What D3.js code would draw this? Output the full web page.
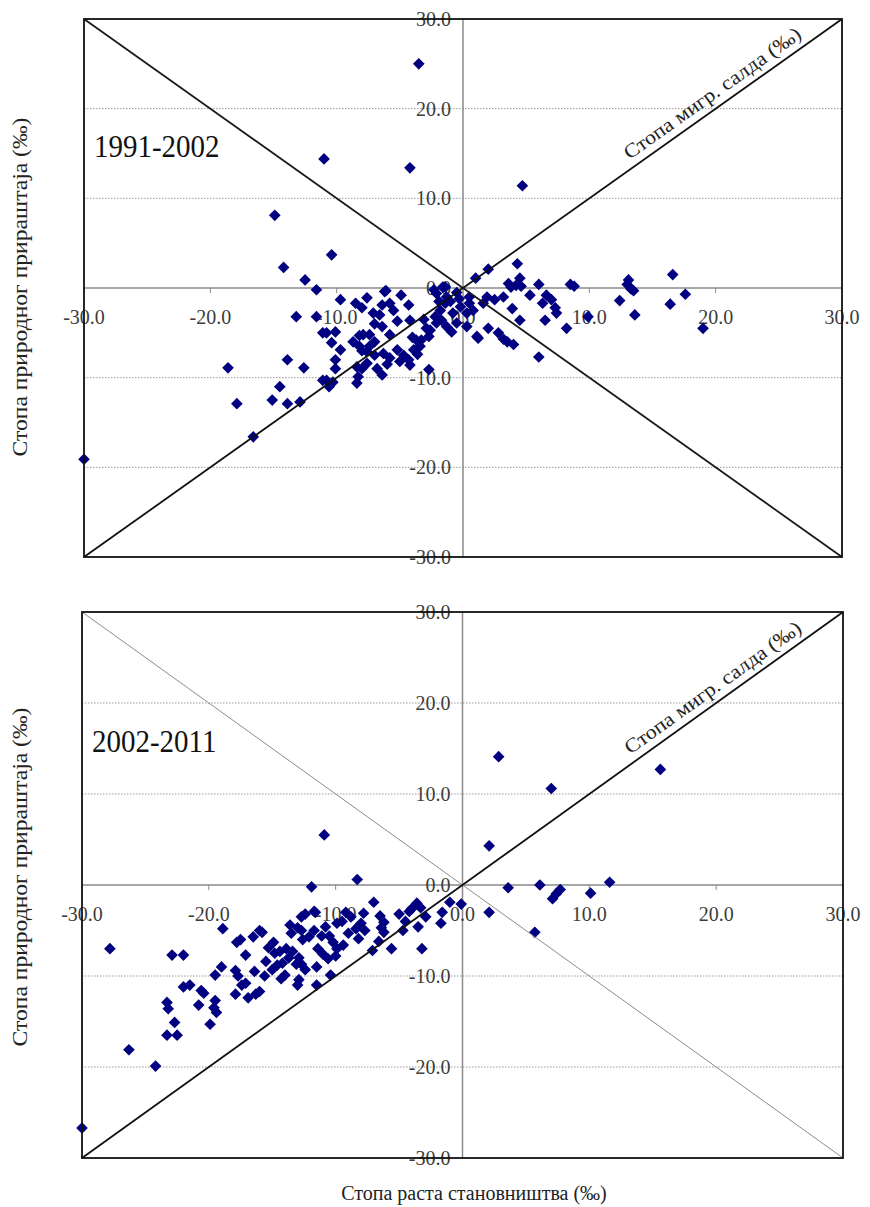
<!DOCTYPE html>
<html>
<head>
<meta charset="utf-8">
<script src="https://cdn.jsdelivr.net/npm/d3@7"></script>
<style>
  html, body { margin: 0; padding: 0; background: #ffffff; }
  #chart { width: 870px; height: 1207px; }
</style>
</head>
<body>
<div id="chart"></div>
<script>
// Axis ticks (both axes share the same scale -30..30)
const tickValues = [-30, -20, -10, 0, 10, 20, 30];
const tickLabels = ['-30.0', '-20.0', '-10.0', '0.0', '10.0', '20.0', '30.0'];
const gridValues = [-20, -10, 10, 20];

// 1991-2002: population growth rate (x) vs natural increase rate (y), per mille
const growth1991 = [
    -30.0, -18.6, -17.9, -16.6, -15.1, -14.5, -13.9, -12.9, -13.9, -12.6,
    -14.9, -14.2, -12.5, -11.6, -10.4, -11.0, -4.2, -3.5, 4.7, -13.2,
    -11.6, -9.7, -11.1, -10.6, -10.3, -10.1, -11.1, -10.1, -10.4, -9.7,
    -8.4, -8.0, -6.4, -8.2, -8.0, -7.6, -7.0, -8.5, -8.0, -7.6,
    -7.1, -6.2, -5.8, -4.9, -6.1, -6.4, -6.4, -5.8, -7.0, -5.2,
    -4.2, -4.3, -4.2, -2.7, -6.3, -5.8, -5.2, -4.7, -4.3, -3.9,
    -3.4, -3.3, -2.7, -2.6, -2.1, -2.2, -1.8, -1.4, -1.3, -2.1,
    -1.7, -1.3, -0.9, -0.5, -0.8, -0.2, 0.3, 1.1, 1.0, -3.1,
    -2.9, -4.0, -3.7, -10.1, -10.8, -8.4, -8.3, -7.6, -7.0, -7.4,
    -7.9, -7.4, -8.7, -8.2, -10.8, -2.3, -1.6, -1.4, 0.5, 0.5,
    0.8, 0.3, 2.0, 4.3, 1.9, 2.5, 3.2, 1.6, 3.6, 3.8,
    4.5, 4.6, 4.2, 6.0, 5.3, 3.9, 2.0, 2.8, 3.2, 3.5,
    4.0, 1.2, 4.5, 6.0, 6.6, 7.0, 6.3, 7.3, 7.4, 6.5,
    8.2, 8.5, 8.8, 9.9, 13.1, 13.0, 13.3, 13.5, 12.4, 13.6,
    16.6, 16.4, 17.6, 19.0, -6.6, -5.5, -0.5, -1.0, -0.3, -1.9,
    -5.0, -6.0, -3.6, -6.8
];
const natural1991 = [
    -19.1, -8.9, -12.9, -16.6, -12.5, -11.0, -12.9, -12.7, -8.0, -8.9,
    8.1, 2.3, 0.9, -0.2, 3.7, 14.4, 13.4, 25.0, 11.4, -3.2,
    -3.2, -1.3, -10.3, -11.0, -10.5, -9.0, -5.0, -4.9, -6.1, -6.9,
    -10.6, -9.0, -9.7, -5.3, -7.0, -7.1, -7.5, -1.7, -2.2, -1.1,
    -2.8, -0.4, -1.7, -0.8, -0.3, -1.9, -4.3, -5.2, -4.0, -3.7,
    -3.6, -1.9, -8.6, -9.1, -7.3, -7.8, -6.9, -7.5, -8.0, -6.9,
    -6.5, -5.8, -5.4, -4.7, -3.9, -3.2, -2.5, -1.7, -1.0, -0.6,
    -3.6, -4.3, -4.9, -3.9, -2.8, -2.1, -2.8, -5.4, 1.1, -3.5,
    -4.5, -5.5, -5.8, -8.0, -10.3, -8.8, -9.9, -8.4, -6.0, -6.5,
    -5.2, -5.2, -6.0, -6.5, -5.0, -0.2, 0.1, 0.1, -1.0, -1.7,
    -2.5, -4.3, 2.1, 2.7, -1.0, -1.3, -1.0, -1.7, 0.5, 0.1,
    1.1, 0.2, 0.3, 0.4, -0.8, -2.3, -4.5, -5.0, -5.7, -6.0,
    -6.3, -5.6, -3.6, -7.7, -0.8, -1.3, -1.7, -2.2, -2.8, -3.6,
    -4.5, 0.4, 0.2, -3.2, 0.9, 0.4, -0.1, -0.3, -1.4, -3.0,
    1.5, -1.8, -0.7, -4.5, -3.0, -2.5, -0.5, -1.5, -1.2, -1.5,
    -8.2, -8.5, -7.4, -9.0
];

// 2002-2011
const growth2002 = [
    2.85, 15.6, 7.0, 2.1, 3.6, 6.1, 7.1, 7.4, 7.7, 10.1,
    11.6, 2.1, 5.7, -0.1, -1.0, -1.6, -1.7, -8.3, -11.9, -7.0,
    -3.6, -3.3, -4.0, -4.2, -2.9, -3.5, -4.7, -3.2, -5.6, -7.1,
    -7.8, -6.5, -6.2, -6.4, -6.2, -6.6, -8.0, -8.4, -7.7, -8.2,
    -9.2, -9.5, -8.8, -11.6, -12.4, -12.7, -10.8, -11.1, -10.5, -10.2,
    -9.9, -11.4, -9.4, -10.0, -10.6, -11.0, -11.7, -13.0, -13.5, -12.7,
    -16.0, -16.5, -13.9, -14.4, -13.4, -13.7, -12.9, -14.2, -13.1, -14.6,
    -12.7, -12.4, -14.0, -12.9, -10.4, -11.5, -17.1, -17.5, -17.7, -17.1,
    -16.0, -27.8, -22.9, -22.0, -18.9, -17.8, -15.8, -13.6, -11.7, -12.6,
    -12.1, -15.3, -14.8, -15.5, -15.0, -14.3, -15.6, -19.0, -19.5, -17.9,
    -17.4, -17.9, -16.9, -16.3, -22.0, -21.5, -20.6, -20.4, -20.8, -19.5,
    -19.6, -19.4, -19.9, -23.3, -23.2, -22.7, -23.3, -22.5, -26.3, -24.2,
    -30.0, -10.9, -5.0, -4.5, -9.0, -9.9, -14.9, -16.4, -13.0, -11.5
];
const natural2002 = [
    14.1, 12.7, 10.6, 4.3, -0.3, 0.0, -1.5, -0.95, -0.5, -0.9,
    0.3, -3.0, -5.2, -2.1, -1.9, -3.0, -4.2, 0.6, -0.2, -1.9,
    -2.0, -2.5, -2.6, -2.9, -3.5, -4.6, -5.0, -7.0, -7.0, -7.2,
    -3.1, -3.4, -4.1, -4.7, -5.2, -6.2, -4.2, -4.8, -5.0, -5.9,
    -3.0, -4.0, -3.5, -3.0, -3.2, -3.5, -4.6, -5.6, -5.6, -6.3,
    -7.0, -7.0, -6.6, -7.8, -8.1, -7.6, -5.0, -4.7, -5.3, -5.0,
    -5.0, -5.7, -7.0, -7.3, -7.3, -8.0, -8.0, -8.6, -8.7, -8.8,
    -8.7, -9.3, -9.9, -10.4, -9.9, -11.0, -7.7, -6.0, -10.0, -10.8,
    -11.7, -7.0, -7.7, -7.7, -4.8, -6.3, -5.2, -4.4, -2.9, -6.0,
    -5.7, -6.9, -7.5, -8.4, -9.3, -10.3, -10.0, -9.0, -9.9, -9.4,
    -11.0, -12.0, -12.4, -12.0, -11.2, -11.0, -11.6, -11.9, -13.2, -12.7,
    -13.5, -14.0, -15.3, -12.9, -13.6, -15.1, -16.5, -16.5, -18.1, -19.9,
    -26.7, 5.5, -3.2, -4.0, -5.3, -4.2, -6.3, -9.5, -11.0, -9.0
];

const panels = [
    { period: '1991-2002', xs: growth1991, ys: natural1991, box: { left: 84, right: 842, top: 19, bottom: 557 }, titleY: 287, antiColor: '#1a1a1a', antiWidth: 1.8 },
    { period: '2002-2011', xs: growth2002, ys: natural2002, box: { left: 82, right: 843, top: 612, bottom: 1158 }, titleY: 877, antiColor: '#8c8c8c', antiWidth: 1 }
];

const yTitle = 'Стопа природног прираштаја (‰)';
const xTitle = 'Стопа раста становништва (‰)';
const diagonalTitle = 'Стопа мигр. салда (‰)';

const serif = '"Liberation Serif", "DejaVu Serif", serif';
const pointColor = '#000080';
const labelColor = '#3c3c3c';

const svg = d3.select('#chart')
    .append('svg')
    .attr('width', 870)
    .attr('height', 1207);

function drawPanel(p) {
    const b = p.box;
    const x = d3.scaleLinear().domain([-30, 30]).range([b.left, b.right]);
    const y = d3.scaleLinear().domain([-30, 30]).range([b.bottom, b.top]);
    const g = svg.append('g');

    // Dotted horizontal gridlines
    g.selectAll('.grid')
        .data(gridValues)
        .enter()
        .append('line')
        .attr('x1', b.left)
        .attr('x2', b.right)
        .attr('y1', d => y(d))
        .attr('y2', d => y(d))
        .attr('stroke', '#9a9a9a')
        .attr('stroke-width', 1)
        .attr('stroke-dasharray', '1.5,1.5');

    // Zero axes
    g.append('line')
        .attr('x1', b.left).attr('x2', b.right)
        .attr('y1', y(0)).attr('y2', y(0))
        .attr('stroke', '#8a8a8a').attr('stroke-width', 1.5);
    g.append('line')
        .attr('x1', x(0)).attr('x2', x(0))
        .attr('y1', b.top).attr('y2', b.bottom)
        .attr('stroke', '#8a8a8a').attr('stroke-width', 1.5);

    // Small ticks under the horizontal axis
    g.selectAll('.xtick')
        .data(tickValues.filter(d => d !== 0))
        .enter()
        .append('line')
        .attr('x1', d => x(d)).attr('x2', d => x(d))
        .attr('y1', y(0)).attr('y2', y(0) + 5)
        .attr('stroke', '#8a8a8a').attr('stroke-width', 1);

    // Tick labels
    g.selectAll('.xlabel')
        .data(tickValues)
        .enter()
        .append('text')
        .attr('x', d => x(d))
        .attr('y', y(0) + 36)
        .attr('text-anchor', 'middle')
        .style('font-family', serif)
        .style('font-size', '20px')
        .style('fill', labelColor)
        .text((d, i) => tickLabels[i]);

    g.selectAll('.ylabel')
        .data(tickValues)
        .enter()
        .append('text')
        .attr('x', x(0) - 12)
        .attr('y', d => y(d))
        .attr('dy', '0.35em')
        .attr('text-anchor', 'end')
        .style('font-family', serif)
        .style('font-size', '20px')
        .style('fill', labelColor)
        .text((d, i) => tickLabels[i]);

    // Points
    const diamond = d3.symbol().type(d3.symbolSquare).size(68);
    g.selectAll('.point')
        .data(p.xs.map((v, i) => ({ x: v, y: p.ys[i] })))
        .enter()
        .append('path')
        .attr('d', diamond)
        .attr('transform', d => `translate(${x(d.x)},${y(d.y)}) rotate(45)`)
        .attr('fill', pointColor);

    // Diagonals
    const line = d3.line().x(d => x(d[0])).y(d => y(d[1]));
    g.append('path')
        .attr('d', line([[-30, 30], [30, -30]]))
        .attr('fill', 'none')
        .attr('stroke', p.antiColor)
        .attr('stroke-width', p.antiWidth);
    g.append('path')
        .attr('d', line([[-30, -30], [30, 30]]))
        .attr('fill', 'none')
        .attr('stroke', '#111')
        .attr('stroke-width', 1.8);

    // Label along the main diagonal
    const angle = -Math.atan((y(-30) - y(30)) / (x(30) - x(-30))) * 180 / Math.PI;
    g.append('text')
        .attr('transform', `translate(${x(20.4)},${y(20.4)}) rotate(${angle}) scale(1.1,1)`)
        .attr('y', -8)
        .attr('text-anchor', 'middle')
        .style('font-family', serif)
        .style('font-size', '20px')
        .style('fill', '#222')
        .text(diagonalTitle);

    // Plot frame
    g.append('rect')
        .attr('x', b.left).attr('y', b.top)
        .attr('width', b.right - b.left)
        .attr('height', b.bottom - b.top)
        .attr('fill', 'none')
        .attr('stroke', '#111')
        .attr('stroke-width', 1.8);

    // Period label
    g.append('text')
        .attr('transform', `translate(${b.left + 10},${y(14.6)}) scale(1,1.12)`)
        .style('font-family', serif)
        .style('font-size', '29px')
        .style('fill', '#111')
        .text(p.period);

    // Y title
    g.append('text')
        .attr('transform', `translate(20,${p.titleY}) rotate(-90) scale(1.18,1)`)
        .attr('dy', '0.35em')
        .attr('text-anchor', 'middle')
        .style('font-family', serif)
        .style('font-size', '20px')
        .style('fill', '#222')
        .text(yTitle);
}

panels.forEach(drawPanel);

svg.append('text')
    .attr('x', 474)
    .attr('y', 1200)
    .attr('text-anchor', 'middle')
    .style('font-family', serif)
    .style('font-size', '20px')
    .style('fill', '#222')
    .text(xTitle);
</script>
</body>
</html>
